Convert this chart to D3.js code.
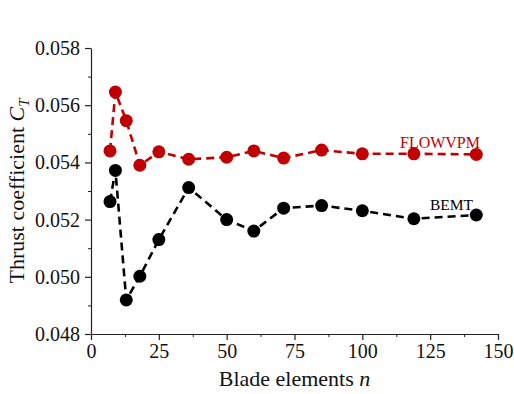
<!DOCTYPE html>
<html>
<head>
<meta charset="utf-8">
<script src="https://cdn.jsdelivr.net/npm/d3@7"></script>
<style>
  html, body { margin: 0; padding: 0; background: #fff; }
  svg text { font-family: "Liberation Serif", "Times New Roman", serif; }
</style>
</head>
<body>
<svg id="chart" width="514" height="394"></svg>
<script>
// Number of blade elements
const elements = [7, 9, 13, 18, 25, 36, 50, 60, 71, 85, 100, 119, 142];
// Thrust coefficient from the vortex particle method
const flowvpm = [0.05440, 0.05646, 0.05546, 0.05390, 0.05437, 0.05411, 0.05418, 0.05440, 0.05415, 0.05443, 0.05430, 0.05430, 0.05428];
// Thrust coefficient from blade element momentum theory
const bemt = [0.05263, 0.05372, 0.04919, 0.05002, 0.05130, 0.05312, 0.05200, 0.05160, 0.05240, 0.05249, 0.05231, 0.05203, 0.05216];

const xTicks = [0, 25, 50, 75, 100, 125, 150];
const yTicks = [0.048, 0.050, 0.052, 0.054, 0.056, 0.058];

const serif = "'Liberation Serif', 'Times New Roman', serif";
const svg = d3.select("#chart");
const m = { left: 91, right: 498, top: 48, bottom: 334 };

const x = d3.scaleLinear().domain([0, 150]).range([m.left, m.right]);
const y = d3.scaleLinear().domain([0.048, 0.058]).range([m.bottom, m.top]);

const axisColor = "#222";

// minor ticks
svg.append("g")
  .attr("transform", `translate(0,${m.bottom})`)
  .call(d3.axisBottom(x).tickValues(d3.range(12.5, 150, 25)).tickSize(3).tickFormat(""))
  .call(g => g.select(".domain").remove())
  .call(g => g.selectAll("line").attr("stroke", axisColor));
svg.append("g")
  .attr("transform", `translate(${m.left},0)`)
  .call(d3.axisLeft(y).tickValues(d3.range(0.049, 0.058, 0.002)).tickSize(3).tickFormat(""))
  .call(g => g.select(".domain").remove())
  .call(g => g.selectAll("line").attr("stroke", axisColor));

// major axes
const xAxis = svg.append("g")
  .attr("transform", `translate(0,${m.bottom})`)
  .call(d3.axisBottom(x).tickValues(xTicks).tickSize(6).tickSizeOuter(0).tickPadding(4).tickFormat(d3.format("d")));
const yAxis = svg.append("g")
  .attr("transform", `translate(${m.left},0)`)
  .call(d3.axisLeft(y).tickValues(yTicks).tickSize(6).tickSizeOuter(0).tickPadding(5).tickFormat(d3.format(".3f")));

[xAxis, yAxis].forEach(g => {
  g.attr("font-family", serif);
  g.select(".domain").attr("stroke", axisColor).attr("stroke-width", 1.2);
  g.selectAll(".tick line").attr("stroke", axisColor).attr("stroke-width", 1.2);
  g.selectAll(".tick text")
    .attr("fill", "#111")
    .style("font-family", serif)
    .style("font-size", "20px");
});

// axis titles
svg.append("text")
  .attr("x", (m.left + m.right) / 2)
  .attr("y", 386)
  .attr("text-anchor", "middle")
  .style("font-family", serif)
  .style("font-size", "22px")
  .attr("fill", "#111")
  .call(t => {
    t.append("tspan").text("Blade elements ");
    t.append("tspan").attr("font-style", "italic").text("n");
  });

svg.append("text")
  .attr("transform", `translate(24,191) rotate(-90)`)
  .attr("text-anchor", "middle")
  .style("font-family", serif)
  .style("font-size", "22px")
  .attr("fill", "#111")
  .call(t => {
    t.append("tspan").text("Thrust coefficient ");
    t.append("tspan").attr("font-style", "italic").text("C");
    t.append("tspan").attr("font-style", "italic").attr("font-size", "15px").attr("dy", 5).text("T");
  });

// series
const series = [
  { name: "FLOWVPM", values: flowvpm, color: "#c00000", lx: 480, ly: 148, size: 16 },
  { name: "BEMT", values: bemt, color: "#000000", lx: 473, ly: 210, size: 15.5 }
];

const line = d3.line().x(d => x(d[0])).y(d => y(d[1]));

series.forEach(s => {
  const pts = elements.map((n, i) => [n, s.values[i]]);
  svg.append("path")
    .datum(pts)
    .attr("d", line)
    .attr("fill", "none")
    .attr("stroke", s.color)
    .attr("stroke-width", 2.6)
    .attr("stroke-dasharray", "8,5");
  svg.append("g")
    .selectAll("circle")
    .data(pts)
    .join("circle")
    .attr("cx", d => x(d[0]))
    .attr("cy", d => y(d[1]))
    .attr("r", 6.5)
    .attr("fill", s.color);
  svg.append("text")
    .attr("x", s.lx)
    .attr("y", s.ly)
    .attr("text-anchor", "end")
    .style("font-family", serif)
    .style("font-size", s.size + "px")
    .attr("fill", s.color)
    .text(s.name);
});
</script>
</body>
</html>
